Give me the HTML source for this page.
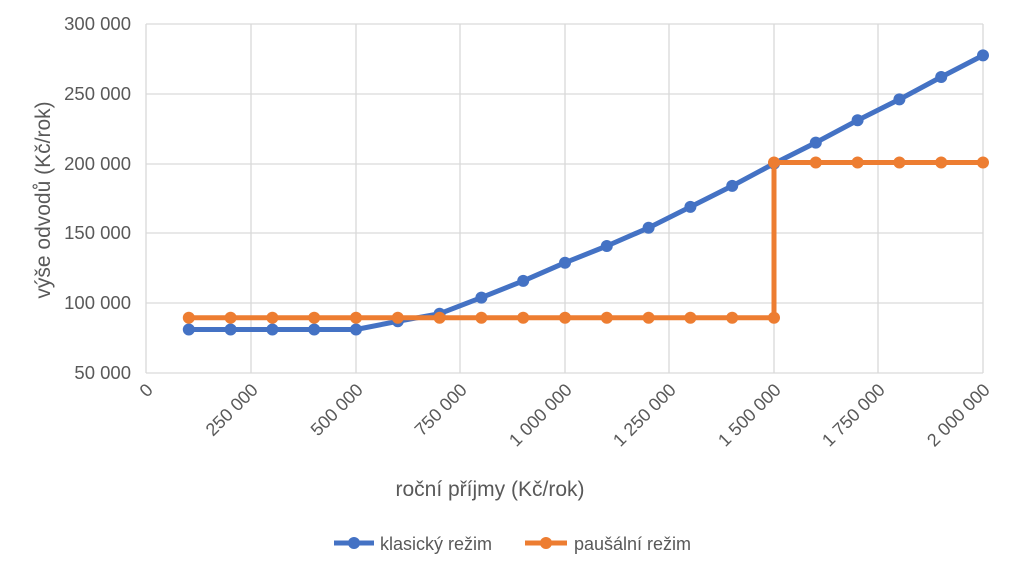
<!DOCTYPE html>
<html><head><meta charset="utf-8"><style>body{margin:0;background:#fff}svg{display:block}text{font-family:"Liberation Sans",sans-serif;fill:#595959}</style></head>
<body>
<svg width="1024" height="575" xmlns="http://www.w3.org/2000/svg">
<g stroke="#d9d9d9" stroke-width="1.3">
<line x1="146" y1="24" x2="983" y2="24"/><line x1="146" y1="94" x2="983" y2="94"/><line x1="146" y1="164" x2="983" y2="164"/><line x1="146" y1="233" x2="983" y2="233"/><line x1="146" y1="303" x2="983" y2="303"/><line x1="146" y1="373" x2="983" y2="373"/>
<line x1="146" y1="24" x2="146" y2="373"/><line x1="251" y1="24" x2="251" y2="373"/><line x1="356" y1="24" x2="356" y2="373"/><line x1="460" y1="24" x2="460" y2="373"/><line x1="565" y1="24" x2="565" y2="373"/><line x1="669" y1="24" x2="669" y2="373"/><line x1="774" y1="24" x2="774" y2="373"/><line x1="878" y1="24" x2="878" y2="373"/><line x1="983" y1="24" x2="983" y2="373"/>
</g>
<g font-size="18.5" text-anchor="end">
<text x="131" y="30">300 000</text><text x="131" y="100">250 000</text><text x="131" y="170">200 000</text><text x="131" y="239">150 000</text><text x="131" y="309">100 000</text><text x="131" y="379">50 000</text>
</g>
<g font-size="18" text-anchor="end">
<text transform="translate(154,391) rotate(-45)">0</text>
<text transform="translate(259,391) rotate(-45)">250 000</text>
<text transform="translate(364,391) rotate(-45)">500 000</text>
<text transform="translate(468,391) rotate(-45)">750 000</text>
<text transform="translate(573,391) rotate(-45)">1 000 000</text>
<text transform="translate(677,391) rotate(-45)">1 250 000</text>
<text transform="translate(782,391) rotate(-45)">1 500 000</text>
<text transform="translate(886,391) rotate(-45)">1 750 000</text>
<text transform="translate(991,391) rotate(-45)">2 000 000</text>
</g>
<text x="490" y="496" font-size="21" text-anchor="middle">roční příjmy (Kč/rok)</text>
<text transform="translate(50,200) rotate(-90)" font-size="21" text-anchor="middle">výše odvodů (Kč/rok)</text>
<g fill="#4472c4">
<polyline fill="none" stroke="#4472c4" stroke-width="5" stroke-linejoin="round" points="188.8,329.5 230.6,329.5 272.4,329.5 314.2,329.5 356,329.5 397.8,321.3 439.6,313.7 481.4,297.6 523.2,280.9 565,262.7 606.8,246 648.6,227.8 690.4,206.9 732.2,185.9 774,163.6 815.8,142.6 857.6,120.3 899.4,99.4 941.2,77 983,55.4"/>
<circle cx="188.8" cy="329.5" r="6"/><circle cx="230.6" cy="329.5" r="6"/><circle cx="272.4" cy="329.5" r="6"/><circle cx="314.2" cy="329.5" r="6"/><circle cx="356" cy="329.5" r="6"/><circle cx="397.8" cy="321.3" r="6"/><circle cx="439.6" cy="313.7" r="6"/><circle cx="481.4" cy="297.6" r="6"/><circle cx="523.2" cy="280.9" r="6"/><circle cx="565" cy="262.7" r="6"/><circle cx="606.8" cy="246" r="6"/><circle cx="648.6" cy="227.8" r="6"/><circle cx="690.4" cy="206.9" r="6"/><circle cx="732.2" cy="185.9" r="6"/><circle cx="774" cy="163.6" r="6"/><circle cx="815.8" cy="142.6" r="6"/><circle cx="857.6" cy="120.3" r="6"/><circle cx="899.4" cy="99.4" r="6"/><circle cx="941.2" cy="77" r="6"/><circle cx="983" cy="55.4" r="6"/>
</g>
<g fill="#ed7d31">
<polyline fill="none" stroke="#ed7d31" stroke-width="5" stroke-linejoin="round" points="188.8,317.7 774,317.7 774,162.5 983,162.5"/>
<circle cx="188.8" cy="317.7" r="6"/><circle cx="230.6" cy="317.7" r="6"/><circle cx="272.4" cy="317.7" r="6"/><circle cx="314.2" cy="317.7" r="6"/><circle cx="356" cy="317.7" r="6"/><circle cx="397.8" cy="317.7" r="6"/><circle cx="439.6" cy="317.7" r="6"/><circle cx="481.4" cy="317.7" r="6"/><circle cx="523.2" cy="317.7" r="6"/><circle cx="565" cy="317.7" r="6"/><circle cx="606.8" cy="317.7" r="6"/><circle cx="648.6" cy="317.7" r="6"/><circle cx="690.4" cy="317.7" r="6"/><circle cx="732.2" cy="317.7" r="6"/><circle cx="774" cy="317.7" r="6"/><circle cx="774" cy="162.5" r="6"/><circle cx="815.8" cy="162.5" r="6"/><circle cx="857.6" cy="162.5" r="6"/><circle cx="899.4" cy="162.5" r="6"/><circle cx="941.2" cy="162.5" r="6"/><circle cx="983" cy="162.5" r="6"/>
</g>
<line x1="334" y1="543" x2="374" y2="543" stroke="#4472c4" stroke-width="5"/><circle cx="354" cy="543" r="6" fill="#4472c4"/>
<text x="380" y="550" font-size="18">klasický režim</text>
<line x1="525" y1="543" x2="567" y2="543" stroke="#ed7d31" stroke-width="5"/><circle cx="546" cy="543" r="6" fill="#ed7d31"/>
<text x="574" y="550" font-size="18">paušální režim</text>
</svg>
</body></html>
